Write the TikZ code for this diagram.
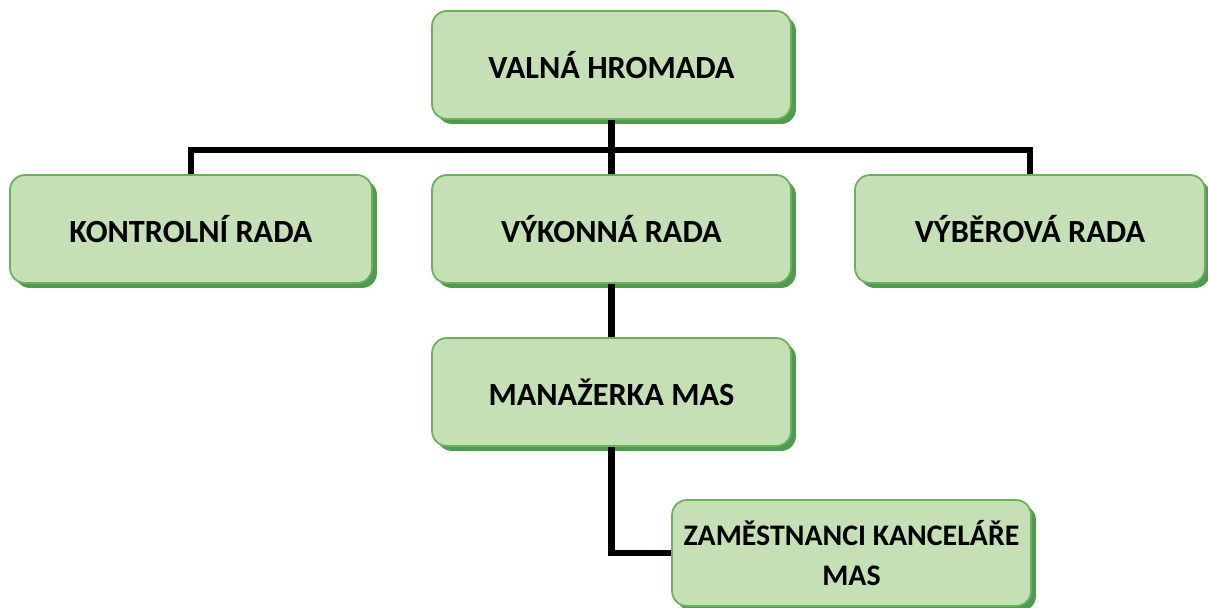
\documentclass[tikz,border=0pt]{standalone}
\usepackage{fontspec}
\setmainfont{Carlito}
\usetikzlibrary{shadows}

\definecolor{boxfill}{HTML}{C5E0B4}
\definecolor{boxline}{HTML}{6AAF5C}
\definecolor{boxshade}{HTML}{509B50}

\tikzset{
    orgbox/.style={draw=boxline, line width=1pt, fill=boxfill, rounded corners=0.3cm,
        minimum width=7.18cm, minimum height=2.16cm, align=center,
        font=\fontsize{18.4}{23}\selectfont\bfseries,
        drop shadow={shadow xshift=0.1cm, shadow yshift=-0.1cm, fill=boxshade, opacity=1}},
    link/.style={line width=3.6pt, black}
}

\begin{document}
\begin{tikzpicture}[x=0.02cm, y=-0.02cm]
        \useasboundingbox (0,0) rectangle (1208,608);
        \node[orgbox] (vh) at (611.5,65) {VALNÁ HROMADA};
        \node[orgbox, minimum width=7.24cm] (kr) at (191,229) {KONTROLNÍ RADA};
        \node[orgbox] (vr) at (611.5,229) {VÝKONNÁ RADA};
        \node[orgbox, minimum width=7.0cm] (vyr) at (1030,229) {VÝBĚROVÁ RADA};
        \node[orgbox] (man) at (611.5,392) {MANAŽERKA MAS};
        \node[orgbox, minimum height=2.12cm, inner xsep=1pt,
            font=\fontsize{17}{23}\selectfont\bfseries] (zam) at (851.5,553) {ZAMĚSTNANCI KANCELÁŘE\\MAS};
        \coordinate (bar) at (611.5,150);
        % connectors
        \draw[link] (vh.south) -- (vr.north);
        \draw[link] (kr.north) |- (bar) -| (vyr.north);
        \draw[link] (vr.south) -- (man.north);
        \draw[link] (man.south) |- (zam.west);
\end{tikzpicture}
\end{document}
